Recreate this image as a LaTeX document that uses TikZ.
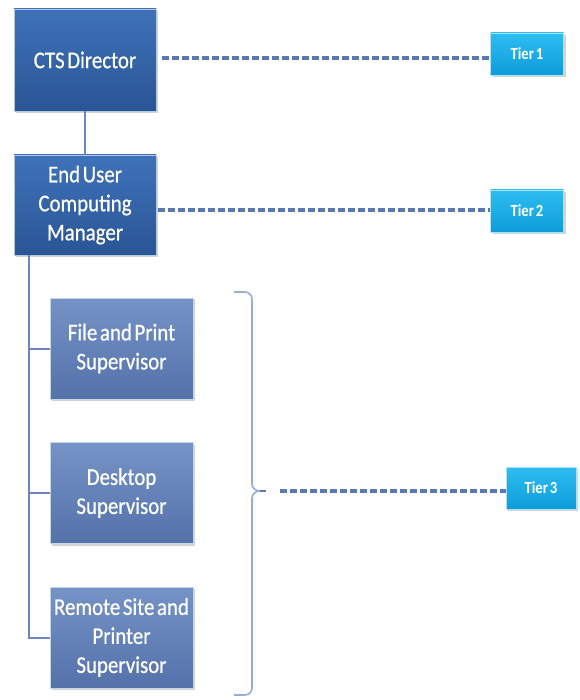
\documentclass[tikz,border=0pt]{standalone}
\usepackage{fontspec}
\setmainfont{Carlito}
\newfontfamily\boxfont[FakeStretch=0.87,FakeBold=0.6,WordSpace=0.55]{Carlito}
\newfontfamily\tierfont[FakeStretch=0.86,WordSpace=0.6]{Carlito Bold}
\usetikzlibrary{shadows}
\definecolor{dirtop}{HTML}{3F72BA}
\definecolor{dirbot}{HTML}{2A5595}
\definecolor{suptop}{HTML}{7593C6}
\definecolor{supbot}{HTML}{5472AA}
\definecolor{tiertop}{HTML}{2DBDF2}
\definecolor{tierbot}{HTML}{0E9CD9}
\definecolor{dashc}{HTML}{5A78B6}
\definecolor{linkc}{HTML}{6A88BF}
\definecolor{bracec}{HTML}{95ADDA}
\tikzset{
  boxbase/.style={rectangle, inner sep=1pt, align=center, text=white,
    draw=white!60!dirtop, line width=0.6pt,
    drop shadow={shadow xshift=2pt, shadow yshift=-2pt, opacity=0.35}},
  mgrbox/.style={boxbase, top color=dirtop, bottom color=dirbot,
    minimum width=142pt, minimum height=102pt,
    font=\boxfont\fontsize{24}{29}\selectfont},
  supbox/.style={boxbase, top color=suptop, bottom color=supbot,
    draw=white!60!suptop, minimum width=143pt, minimum height=101pt,
    font=\boxfont\fontsize{24}{29}\selectfont},
  tierbox/.style={boxbase, top color=tiertop, bottom color=tierbot,
    draw=white!60!tiertop, minimum width=73pt, minimum height=42pt,
    font=\tierfont\fontsize{17}{19}\selectfont},
  tierlink/.style={draw=dashc, line width=3.5pt, dash pattern=on 7pt off 3pt},
  orglink/.style={draw=linkc, line width=2pt},
}
\begin{document}
\begin{tikzpicture}[x=1pt,y=-1pt]
\useasboundingbox (0,0) rectangle (579,700);

% management chain
\node[mgrbox] (cts) at (85,60) {CTS Director};
\node[mgrbox, minimum height=100pt] (euc) at (85,205) {End User\\Computing\\Manager};

% supervisors
\node[supbox] (fps) at (121.5,348.5) {File and Print\\Supervisor};
\node[supbox] (dsk) at (121.5,493) {Desktop\\Supervisor};
\node[supbox] (rem) at (121.5,637.5) {Remote Site and\\Printer\\Supervisor};

% tier labels
\node[tierbox] (t1) at (527,54) {Tier 1};
\node[tierbox] (t2) at (527,211) {Tier 2};
\node[tierbox, minimum width=70pt] (t3) at (541,488) {Tier 3};

% reporting lines
\draw[orglink] (cts.south) -- (euc.north);
\coordinate (trunk) at ([xshift=-56pt]euc.south);
\draw[orglink] (trunk) |- (rem.west);
\draw[orglink] (trunk |- fps.west) -- (fps.west);
\draw[orglink] (trunk |- dsk.west) -- (dsk.west);

% brace grouping the supervisors
\coordinate (brtip) at (260,491);
\draw[bracec, line width=1.6pt, line join=round]
  (234,292) -- (245,292) to[out=0,in=90] (252,299) -- (252,484)
  to[out=-90,in=180] (brtip) to[out=180,in=90] (252,498) -- (252,688)
  to[out=-90,in=0] (245,695) -- (234,695);

% tier connectors
\draw[tierlink] ([xshift=6pt]cts.east |- 0,58) -- (t1.west |- 0,58);
\draw[tierlink] ([xshift=2pt]euc.east |- 0,210) -- (t2.west |- 0,210);
\draw[dashc, line width=1.5pt] (brtip) -- (266,491);
\draw[tierlink] (280,491) -- (t3.west |- 0,491);
\end{tikzpicture}
\end{document}
